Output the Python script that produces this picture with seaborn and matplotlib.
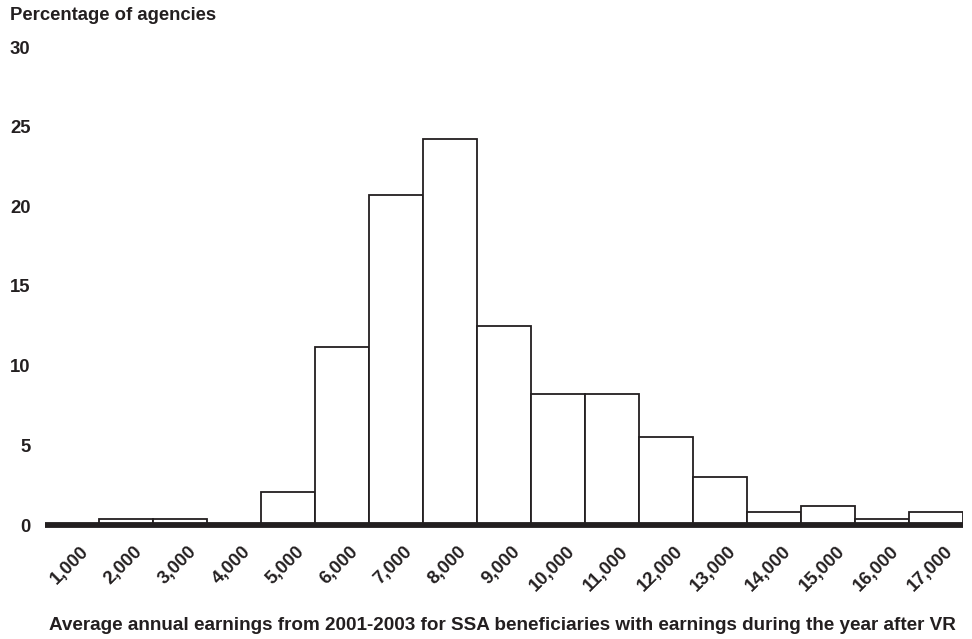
import matplotlib
matplotlib.use("Agg")
import matplotlib.pyplot as plt
import matplotlib.transforms as mtransforms
import pandas as pd
import seaborn as sns

# earnings bins (lower bound labels) and share of agencies in each
EARNINGS = ["1,000", "2,000", "3,000", "4,000", "5,000", "6,000", "7,000", "8,000",
            "9,000", "10,000", "11,000", "12,000", "13,000", "14,000", "15,000",
            "16,000", "17,000"]
PCT_AGENCIES = [0.0, 0.4, 0.4, 0.0, 2.1, 11.2, 20.7, 24.2,
                12.5, 8.2, 8.2, 5.5, 3.0, 0.8, 1.2, 0.4, 0.8]
Y_TICKS = [0, 5, 10, 15, 20, 25, 30]

INK = "#231f20"
FS = 13.3

sns.set_theme(style="white")
plt.rcParams["font.family"] = ["Liberation Sans", "DejaVu Sans"]
plt.rcParams["font.weight"] = "bold"

df = pd.DataFrame({"earnings": EARNINGS, "pct": PCT_AGENCIES})

fig = plt.figure(figsize=(9.72, 6.39), dpi=100)
ax = fig.add_axes([45 / 972, 1 - 525 / 639, 918 / 972, (525 - 47) / 639])

sns.barplot(data=df, x="earnings", y="pct", order=EARNINGS, width=1.0,
            color="white", edgecolor=INK, linewidth=1.3, ax=ax)
ax.axhline(0, color=INK, lw=4.2, zorder=5, solid_capstyle="butt", clip_on=False)

ax.set_xlim(-0.5, len(EARNINGS) - 0.5)
ax.set_ylim(0, 30)
ax.set_yticks(Y_TICKS)
ax.set_yticklabels([str(t) for t in Y_TICKS], fontsize=FS, fontweight="bold", color=INK)
ax.tick_params(axis="y", length=0, pad=10.5)
ax.tick_params(axis="x", length=0, pad=13)
shift = mtransforms.ScaledTranslation(8 / 100, 0, fig.dpi_scale_trans)
for lab in ax.get_xticklabels():
    lab.set_rotation(45)
    lab.set_ha("right")
    lab.set_va("top")
    lab.set_rotation_mode("anchor")
    lab.set_fontsize(FS)
    lab.set_fontweight("bold")
    lab.set_color(INK)
    lab.set_transform(lab.get_transform() + shift)

ax.set_ylabel("")
ax.set_xlabel("")
for s in ax.spines.values():
    s.set_visible(False)

fig.text(10 / 972, 1 - 15 / 639, "Percentage of agencies", fontsize=FS,
         fontweight="bold", color=INK, va="center", ha="left")
fig.text(502 / 972, 1 - 625 / 639,
         "Average annual earnings from 2001-2003 for SSA beneficiaries with earnings during the year after VR",
         fontsize=13.6, fontweight="bold", color=INK, va="center", ha="center")

fig.savefig("out.png", dpi=100)
